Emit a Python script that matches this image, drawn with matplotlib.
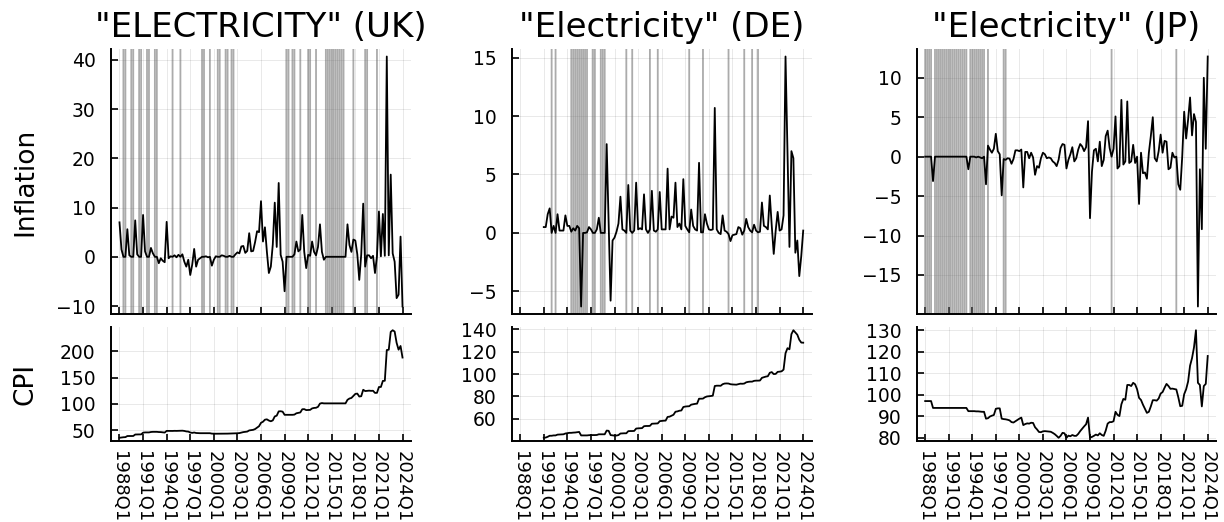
import numpy as np
import matplotlib
matplotlib.use("Agg")
import matplotlib.pyplot as plt
from matplotlib.ticker import MultipleLocator

plt.rcParams['font.family'] = ['DejaVu Sans']

# ---------------- data ----------------
quarters = [f"{y}Q{q}" for y in range(1988, 2025) for q in range(1, 5)][:145]
tick_labels = ["1988Q1", "1991Q1", "1994Q1", "1997Q1", "2000Q1", "2003Q1", "2006Q1",
               "2009Q1", "2012Q1", "2015Q1", "2018Q1", "2021Q1", "2024Q1"]
titles = ['"ELECTRICITY" (UK)', '"Electricity" (DE)', '"Electricity" (JP)']
nan = np.nan

uk_inflation = [
    7.0, 1.5, 0, 0,   5.6, 0.3, 0, 0,   7.4, 0.5, 0, 0,   8.5, 1.1, 0, 0,
    1.8, 0.7, 0, 0,   -1.3, -0.3, -0.8, -1.1,   7.1, -0.3, 0.1, 0,   0.3, -0.1, 0.4, 0,
    0.5, -1.0, -2.0, -0.6,   -3.7, -1.6, 1.6, -2.0,   -0.6, -0.3, 0, 0,   0.1, -0.1, 0, -1.8,
    -0.6, 0.1, 0, 0,   0.3, 0.2, 0, 0,   0.2, 0, 0, 0.5,   0.9, 0.7, 2.1, 2.2,
    0.8, 1.2, 4.8, 1.1,   1.2, 3.0, 5.2, 5.0,   11.3, 3.1, 6.0, 1.0,   -3.3, -2.0, 2.5, 11.0,
    2.0, 15.0, 0.4, -1.0,   -7.0, 0, 0, 0,   0, 0.5, 3.1, 1.1,   1.5, 8.5, 1.0, -2.3,
    0.4, 0.2, 3.1, 1.0,   0.3, 2.0, 6.6, 1.0,   -0.6, 0, 0, 0,   0, 0, 0, 0,
    0, 0, 0, 0,   6.6, 2.4, 1.0, 3.5,   3.3, 0.5, -4.7, 0.5,   10.8, -2.0, 0.3, 0.3,
    -0.3, 0.2, -3.3, 0.1,   9.2, 0.1, 8.7, 0.2,   40.7, 0.3, 16.7, 0.7,   -1.0, -8.4, -7.7, 4.1,
    -10.1]
uk_cpi = [
    35.3, 35.9, 36.3, 36.5,   38.6, 38.7, 38.7, 38.7,   41.5, 41.7, 41.7, 41.7,   45.0, 45.5, 45.5, 45.5,
    46.3, 46.6, 46.6, 46.6,   46.2, 46.1, 45.7, 45.2,   48.4, 48.3, 48.3, 48.3,   48.5, 48.4, 48.6, 48.6,
    48.8, 48.3, 47.4, 47.1,   45.3, 44.6, 45.3, 44.4,   44.1, 44.0, 44.0, 44.0,   44.0, 44.0, 44.0, 43.2,
    43.0, 43.0, 43.0, 43.0,   43.1, 43.2, 43.2, 43.2,   43.3, 43.3, 43.3, 43.5,   43.9, 44.2, 45.1, 46.1,
    46.5, 47.1, 49.3, 49.8,   50.4, 51.9, 54.6, 57.3,   63.8, 65.8, 69.7, 70.4,   68.1, 66.7, 68.4, 75.9,
    77.4, 85.5, 85.8, 85.0,   79.0, 79.0, 79.0, 79.0,   79.0, 79.4, 81.9, 82.8,   83.5, 89.6, 89.8, 88.0,
    88.3, 88.4, 91.2, 92.1,   92.4, 94.2, 100.4, 101.4,   100.8, 100.8, 100.8, 100.8,   100.8, 100.8, 100.8, 100.8,
    100.8, 100.8, 100.8, 100.8,   107.5, 110.0, 111.1, 115.0,   118.8, 119.4, 113.8, 114.4,   126.7, 124.2, 124.6, 125.0,
    124.6, 124.8, 120.7, 120.8,   131.9, 132.0, 143.5, 143.8,   202.3, 202.9, 236.8, 240.0,   237.5, 216.0, 203.0, 210.0,
    188.0]

de_inflation = [
    nan, nan, nan, nan,   nan, nan, nan, nan,   nan, nan, nan, nan,   0.5, 0.5, 1.6, 2.1,
    0, 0.6, 0, 1.6,   0.2, 0.2, 0.2, 1.5,   0.6, 0.6, 0.1, 0.4,   0.2, 0.6, 0.4, -6.3,
    0, 0, 0.05, 0.5,   0.3, 0, 0, 0.3,   1.3, 0, 0, 0,   7.6, 0.8, -5.8, -0.65,
    -0.4, 0.1, 0.8, 3.1,   0.3, 0.2, 0, 4.1,   0.2, 0, 0.2, 4.3,   0.3, 0.4, 0.3, 3.3,
    0.3, 0, 0.3, 3.6,   0.2, 0.1, 0.3, 3.5,   0.3, 0.3, 0.3, 5.5,   0.3, 1.4, 1.3, 4.3,
    0.5, 0.8, 0.3, 4.6,   0.6, 0.3, 0.05, 2.0,   0.6, 0.3, 0.2, 6.0,   0.05, 0.05, 1.6, 0.8,
    0.3, 0.25, 0.3, 10.7,   0.3, 0, -0.1, 1.5,   0.2, 0.1, -0.1, -0.7,   -0.2, -0.15, -0.1, 0.5,
    0.4, -0.15, 0.2, 1.2,   0.5, 0.2, 0.05, 0.7,   0.2, 0.05, 0.1, 2.6,   0.6, 0.5, 0.3, 3.2,
    0.6, -1.8, 0.2, 1.8,   0.2, 0.3, 1.5, 15.1,   6.9, -1.2, 7.0, 6.4,   -1.7, -0.65, -3.7, -2.0,
    0.2]
de_cpi = [
    nan, nan, nan, nan,   nan, nan, nan, nan,   nan, nan, nan, nan,   43.2, 43.4, 44.1, 45.0,
    45.0, 45.3, 45.3, 46.0,   46.1, 46.2, 46.3, 47.0,   47.3, 47.6, 47.6, 47.8,   47.9, 48.2, 48.4, 45.3,
    45.3, 45.3, 45.3, 45.5,   45.6, 45.6, 45.6, 45.7,   46.3, 46.3, 46.3, 46.3,   49.6, 49.4, 45.6, 45.3,
    45.1, 45.2, 45.6, 47.0,   47.1, 47.2, 47.2, 49.1,   49.2, 49.2, 49.3, 51.4,   51.6, 51.7, 51.8, 53.5,
    53.7, 53.7, 53.8, 55.7,   55.8, 55.9, 56.0, 58.0,   58.2, 58.4, 58.5, 61.8,   62.0, 62.9, 63.7, 66.4,
    66.7, 67.3, 67.5, 70.6,   71.0, 71.2, 71.3, 72.7,   73.1, 73.4, 73.6, 78.0,   78.0, 78.1, 79.3, 80.0,
    80.2, 80.4, 80.7, 89.3,   89.6, 89.6, 89.5, 90.9,   91.5, 91.6, 91.5, 90.9,   90.7, 90.6, 90.5, 91.0,
    91.4, 91.3, 91.5, 92.6,   93.0, 93.2, 93.2, 93.9,   94.1, 94.1, 94.2, 96.6,   97.2, 97.7, 98.0, 101.1,
    101.7, 99.9, 100.1, 101.9,   102.1, 102.4, 103.9, 118.5,   123.0, 122.0, 135.5, 139.0,   137.0, 135.0, 130.5, 128.0,
    127.9]

jp_inflation = [
    0, 0, 0, 0,   -3.1, 0, 0, 0,   0, 0, 0, 0,   0, 0, 0, 0,
    0, 0, 0, 0,   0, 0, -1.6, 0,   0, 0, -0.1, 0,   -0.1, -0.2, 0, -3.5,
    1.4, 0.9, 0.5, 1.0,   2.9, 0.7, 0.3, -4.9,   -0.3, -0.4, -0.2, -0.25,   -0.9, -0.3, 0.8, 0.8,
    0.7, 0.9, -3.9, 0.6,   0.6, -0.2, 0.5, -0.1,   -2.3, -1.2, -1.4, -0.2,   0.5, 0.3, -0.2, -0.1,
    -0.2, -0.6, -0.8, -1.2,   -0.4, 1.1, 1.6, 1.5,   -1.5, -0.4, 0.3, 1.2,   -0.6, -0.2, 0.9, 1.6,
    1.3, 0.7, 1.2, 4.5,   -7.8, -1.9, 0.8, 1.0,   -0.6, 1.9, -1.2, -0.4,   2.6, 3.3, 1.1, 0.0,
    1.0, 5.1, -1.5, -1.2,   7.2, -1.0, -0.6, 7.0,   -0.8, -0.6, 1.5, -0.8,   0.0, -6.0, 0.5, -2.1,
    -2.0, -2.8, 0.5, 2.6,   5.0, -0.2, -0.6, 0.7,   2.8, 0.5, 2.0, 1.9,   -1.6, -1.4, 0.5, -0.1,
    0.0, -3.5, -4.2, 0.0,   5.7, 2.3, 4.7, 7.5,   2.7, 5.4, 4.4, -19.0,   -1.6, -9.2, 10.0, 1.0,
    12.7]
jp_cpi = [
    97.0, 97.0, 97.0, 97.0,   93.8, 93.8, 93.8, 93.8,   93.8, 93.8, 93.8, 93.8,   93.8, 93.8, 93.8, 93.8,
    93.8, 93.8, 93.8, 93.8,   93.8, 93.8, 92.3, 92.3,   92.3, 92.3, 92.2, 92.2,   92.1, 92.0, 92.0, 88.8,
    89.0, 89.8, 90.2, 90.5,   93.4, 93.6, 93.6, 88.8,   88.6, 88.5, 88.3, 88.0,   87.2, 87.0, 87.6, 88.2,
    88.8, 89.3, 85.8, 86.3,   86.6, 86.5, 86.9, 86.8,   84.8, 83.8, 82.6, 82.5,   82.9, 83.0, 82.9, 82.8,
    82.7, 82.2, 81.6, 80.8,   79.9, 80.8, 82.2, 82.0,   79.9, 80.9, 80.6, 81.2,   80.8, 80.8, 81.7, 83.0,
    84.1, 85.2, 86.2, 89.3,   80.0, 80.3, 80.8, 81.4,   81.0, 82.0, 81.2, 80.8,   83.2, 86.5, 87.2, 87.2,
    87.6, 92.0, 90.6, 90.0,   95.5, 98.0, 97.6, 104.5,   104.5, 104.0, 105.5, 104.8,   102.5, 98.5, 97.5, 95.3,
    93.4, 91.5, 92.0, 94.5,   97.4, 97.4, 97.2, 98.2,   100.5, 101.2, 103.2, 105.0,   104.0, 102.7, 102.8, 102.6,
    102.4, 98.8, 94.6, 94.8,   100.2, 102.5, 106.1, 113.5,   117.0, 122.0, 130.0, 105.5,   104.5, 94.5, 104.0, 105.0,
    118.0]

# quarters highlighted with grey vertical lines in the inflation panels
uk_marked = ["1988Q3", "1988Q4", "1989Q3", "1989Q4", "1990Q3", "1990Q4", "1991Q3", "1991Q4",
             "1992Q3", "1992Q4", "1994Q4", "1995Q4", "1998Q3", "1998Q4", "1999Q3", "2000Q3",
             "2000Q4", "2001Q3", "2001Q4", "2002Q2", "2002Q3", "2009Q2", "2009Q3", "2010Q1",
             "2010Q2", "2011Q1", "2012Q1", "2012Q2", "2013Q1", "2014Q2", "2014Q3", "2014Q4",
             "2015Q1", "2015Q2", "2015Q3", "2015Q4", "2016Q1", "2016Q2", "2016Q3", "2017Q4",
             "2019Q2", "2019Q3", "2020Q4"]
de_marked = ["1992Q1", "1992Q3", "1994Q3", "1994Q4", "1995Q1", "1995Q2", "1995Q3", "1995Q4",
             "1996Q1", "1996Q2", "1996Q3", "1997Q2", "1997Q3", "1998Q2", "1998Q3", "1998Q4",
             "2001Q3", "2002Q2", "2004Q3", "2005Q3", "2009Q3", "2011Q2", "2014Q3", "2016Q3",
             "2017Q3", "2018Q2"]
jp_marked = ["1988Q1", "1988Q2", "1988Q3", "1988Q4", "1989Q2", "1989Q3", "1989Q4",
             "1990Q1", "1990Q2", "1990Q3", "1990Q4", "1991Q1", "1991Q2", "1991Q3", "1991Q4",
             "1992Q1", "1992Q2", "1992Q3", "1992Q4", "1993Q1", "1993Q2", "1993Q4",
             "1994Q1", "1994Q2", "1994Q3", "1994Q4", "1995Q1", "1995Q2", "1995Q3",
             "1996Q1", "1998Q1", "1998Q2", "2011Q4", "2020Q1"]

inflations = [uk_inflation, de_inflation, jp_inflation]
cpis = [uk_cpi, de_cpi, jp_cpi]
marked = [uk_marked, de_marked, jp_marked]
infl_steps = [10, 5, 5]
cpi_steps = [50, 20, 10]

# ---------------- layout / drawing ----------------
W, H = 1224, 522
fig = plt.figure(figsize=(W / 100, H / 100), dpi=100)
lefts = [111, 511.7, 916.7]
widths = [300, 300, 299.5]
top_y0, top_y1 = 49, 314
bot_y0, bot_y1 = 327, 441

x = np.arange(len(quarters))
tick_pos = [quarters.index(t) for t in tick_labels]
xlim = (-0.03 * (len(quarters) - 1), (len(quarters) - 1) * 1.03)


def style(ax, step):
    for s in ("top", "right"):
        ax.spines[s].set_visible(False)
    for s in ("left", "bottom"):
        ax.spines[s].set_linewidth(1.4)
    ax.tick_params(direction="in", length=5, width=1.2, labelsize=13.5, pad=11)
    ax.tick_params(axis="x", pad=7)
    ax.yaxis.set_major_locator(MultipleLocator(step))
    ax.set_xticks(tick_pos)
    ax.set_xlim(*xlim)
    ax.margins(y=0.03)
    ax.grid(True, color="black", alpha=0.09, lw=0.7)
    ax.set_axisbelow(True)


for j in range(3):
    l, w = lefts[j], widths[j]
    ax1 = fig.add_axes([l / W, 1 - top_y1 / H, w / W, (top_y1 - top_y0) / H])
    ax2 = fig.add_axes([l / W, 1 - bot_y1 / H, w / W, (bot_y1 - bot_y0) / H])

    for q in marked[j]:
        ax1.axvline(quarters.index(q), color="#666666", alpha=0.55, lw=1.3,
                    snap=False, zorder=1)
    ax1.plot(x, inflations[j], color="black", lw=1.3, zorder=3)
    ax2.plot(x, cpis[j], color="black", lw=1.3, zorder=3)

    style(ax1, infl_steps[j])
    style(ax2, cpi_steps[j])
    ax1.tick_params(labelbottom=False)
    ax2.set_xticklabels(tick_labels, rotation=-90, fontsize=13)
    ax1.set_title(titles[j], fontsize=24.5, pad=8.5)

    if j == 0:
        ax1.set_ylabel("Inflation", fontsize=19)
        ax2.set_ylabel("CPI", fontsize=19)
        ax1.yaxis.set_label_coords(-0.243, 0.5)
        ax2.yaxis.set_label_coords(-0.243, 0.5)

fig.savefig("out.png", dpi=100)
